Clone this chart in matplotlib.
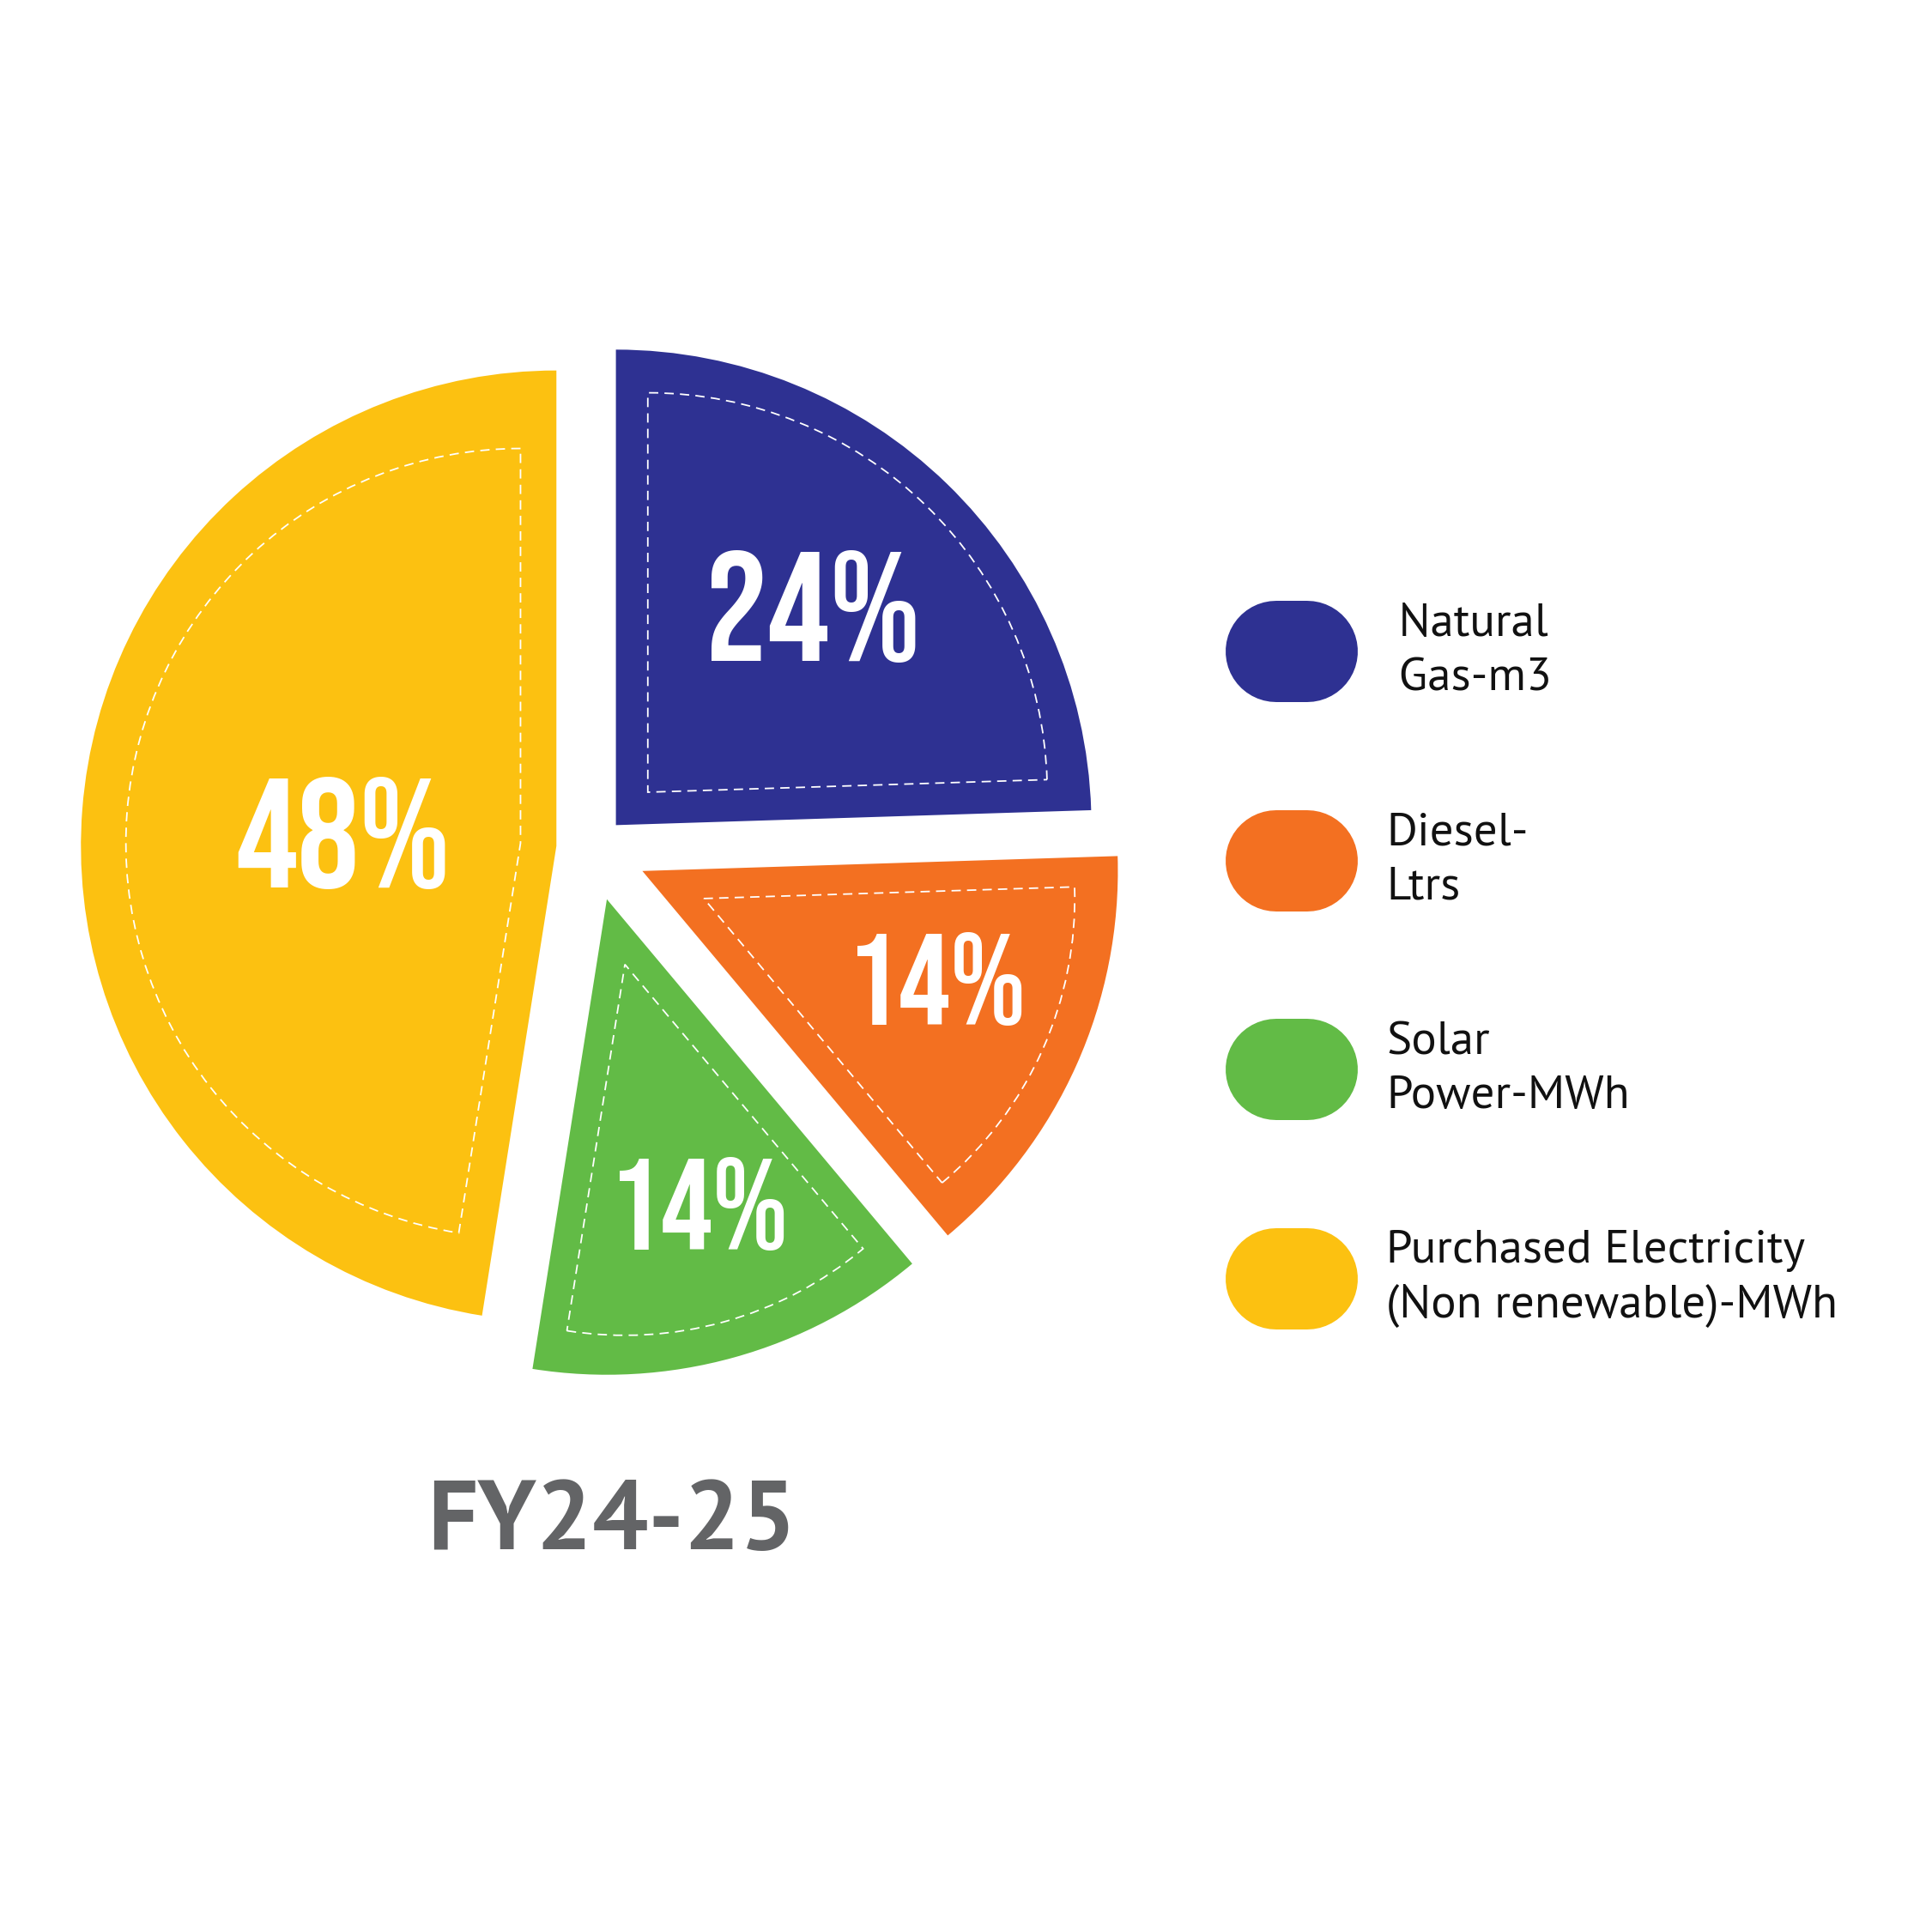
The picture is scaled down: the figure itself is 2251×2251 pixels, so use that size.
import numpy as np
import matplotlib
matplotlib.use("Agg")
import matplotlib.pyplot as plt
from matplotlib.transforms import Affine2D
from matplotlib.patches import PathPatch

# Datos del gráfico (FY24-25)
categorias = ["Natural\nGas-m3", "Diesel-\nLtrs", "Solar\nPower-MWh",
              "Purchased Electricity\n(Non renewable)-MWh"]
participacion = [24.5, 14.4, 13.6, 47.5]
etiquetas_pct = ["24%", "14%", "14%", "48%"]
colores = ["#2E3192", "#F37021", "#62BB46", "#FCC111"]
titulo = "FY24-25"

# Geometria en pixeles de la imagen (origen arriba a la izquierda)
W = 2251
R = 554.0
cx, cy = 690.8, 989.0
separacion = [0.0695, 0.114, 0.110, 0.077]   # explode, en radios
escala_interior = [0.84, 0.78, 0.78, 0.83]   # contorno punteado
dist_etiqueta = [0.620, 0.659, 0.669, 0.449]  # en radios
giro_etiqueta = [2.1, 3.9, 1.3, 0.7]          # grados respecto al centro
tamano_pct = [130, 108, 108, 130]             # puntos


def P(px, py):
    # pixeles -> coordenadas de datos (radio = 1)
    return (px - cx) / R, (cy - py) / R


fuente_pct = ["Bebas Neue", "Oswald", "Barlow Condensed", "DejaVu Sans"]
fuente_txt = ["PT Sans", "Noto Sans", "DejaVu Sans"]

fig = plt.figure(figsize=(W / 100, W / 100), dpi=100)
ax = fig.add_axes([0, 0, 1, 1])

wedges, _ = ax.pie(participacion, colors=colores, startangle=90,
                   counterclock=False, explode=separacion, radius=1,
                   wedgeprops=dict(linewidth=0))

for i, w in enumerate(wedges):
    # contorno punteado: sector escalado alrededor de su centroide
    h = np.deg2rad(w.theta2 - w.theta1) / 2
    m = np.deg2rad(w.theta1 + w.theta2) / 2
    d = 2 * w.r * np.sin(h) / (3 * h)
    gx = w.center[0] + d * np.cos(m)
    gy = w.center[1] + d * np.sin(m)
    s = escala_interior[i]
    t = Affine2D().translate(-gx, -gy).scale(s).translate(gx, gy)
    ax.add_patch(PathPatch(t.transform_path(w.get_path()), fill=False,
                           edgecolor="white", linewidth=1.3,
                           linestyle=(0, (6, 4))))
    # porcentaje (centrado segun la altura de las cifras)
    a = m + np.deg2rad(giro_etiqueta[i])
    lx = w.center[0] + dist_etiqueta[i] * w.r * np.cos(a)
    ly = w.center[1] + dist_etiqueta[i] * w.r * np.sin(a)
    alto = 0.99 * tamano_pct[i]
    ax.text(lx, ly - alto / 2 / R, etiquetas_pct[i], ha="center",
            va="baseline", color="white", fontsize=tamano_pct[i],
            family=fuente_pct)

# Leyenda con marcadores en forma de pastilla
for i, (cat, col) in enumerate(zip(categorias, colores)):
    yc = 759 + i * 243.7
    xa, ya = P(1428 + 59, yc)
    xb, _ = P(1582 - 59, yc)
    ax.plot([xa, xb], [ya, ya], color=col, linewidth=118 * 0.72,
            solid_capstyle="round")
    txt = cat if i else " " + cat.replace("\n", "\n ")
    tx, ty = P(1615, yc)
    ax.text(tx, ty, txt, ha="left", va="center", fontsize=39.5,
            linespacing=1.37, color="#111111", family=fuente_txt)

tx, ty = P(713, 1805)
ax.text(tx, ty, titulo, ha="center", va="baseline", fontsize=83,
        fontweight="bold", color="#636466", family=fuente_txt)

ax.set_xlim(-cx / R, (W - cx) / R)
ax.set_ylim(-(W - cy) / R, cy / R)
ax.set_aspect("equal")
ax.axis("off")

fig.savefig("out.png", dpi=100, facecolor="white")
